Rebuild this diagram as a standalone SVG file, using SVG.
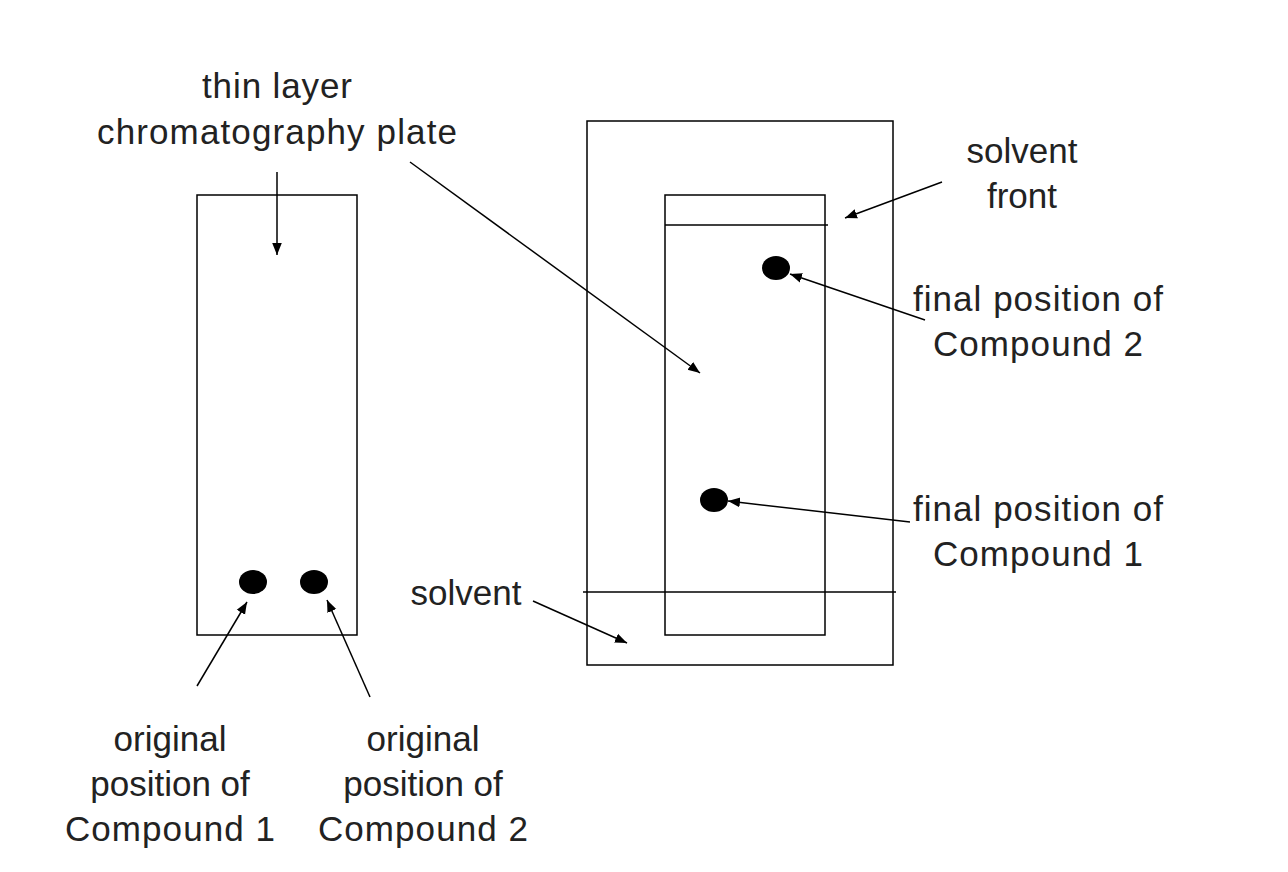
<svg xmlns="http://www.w3.org/2000/svg" width="1288" height="872" viewBox="0 0 1288 872">
<defs><marker id="a" viewBox="0 0 10 10" refX="10" refY="5" markerWidth="8" markerHeight="8" orient="auto"><path d="M0,1 L10,5 L0,9 z" fill="#000"/></marker>
<style>text{font-family:"Liberation Sans",Arial,sans-serif;font-size:35px;fill:#222;text-anchor:middle}.s{fill:none;stroke:#000;stroke-width:1.5}.c{stroke:#000;stroke-width:1.5;marker-end:url(#a)}</style></defs>
<rect width="1288" height="872" fill="#fff"/>
<g id="leftplate"><rect class="s" x="197" y="195" width="160" height="440"/><ellipse cx="253" cy="582" rx="14" ry="12"/><ellipse cx="314" cy="582" rx="14" ry="12"/></g>
<g id="tank"><rect class="s" x="587" y="121" width="306" height="544"/><rect class="s" x="665" y="195" width="160" height="440"/><line class="s" x1="665" y1="225" x2="828" y2="225"/><line class="s" x1="583" y1="592" x2="896" y2="592"/><ellipse cx="776" cy="268" rx="14" ry="12"/><ellipse cx="714" cy="500" rx="14" ry="12"/></g>
<g id="labels">
<text x="277" y="98" textLength="150">thin layer</text><text x="277" y="144" textLength="360">chromatography plate</text>
<text x="170" y="751">original</text><text x="170" y="796">position of</text><text x="170" y="841" textLength="210">Compound 1</text>
<text x="423" y="751">original</text><text x="423" y="796">position of</text><text x="423" y="841" textLength="210">Compound 2</text>
<text x="1022" y="163">solvent</text><text x="1022" y="208">front</text>
<text x="1038" y="311" textLength="250">final position of</text><text x="1038" y="356" textLength="210">Compound 2</text>
<text x="1038" y="521" textLength="250">final position of</text><text x="1038" y="566" textLength="210">Compound 1</text>
<text x="466" y="605">solvent</text></g>
<g id="connectors">
<line class="c" x1="277" y1="172" x2="277" y2="255"/>
<line class="c" x1="197" y1="686" x2="247" y2="602"/>
<line class="c" x1="370" y1="697" x2="327" y2="600"/>
<line class="c" x1="410" y1="162" x2="700" y2="373"/>
<line class="c" x1="533" y1="601" x2="627" y2="643"/>
<line class="c" x1="942" y1="182" x2="845" y2="218"/>
<line class="c" x1="925" y1="320" x2="790" y2="274"/>
<line class="c" x1="910" y1="522" x2="728" y2="501"/>
</g>
</svg>
